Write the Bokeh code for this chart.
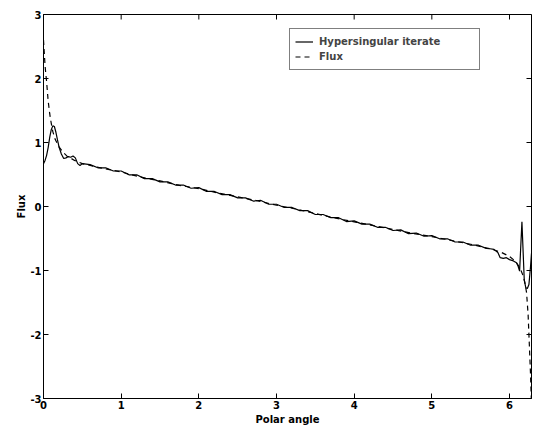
import math
from bokeh.plotting import figure
from bokeh.models import (FixedTicker, Legend, LegendItem, Range1d)
from bokeh.embed import file_html
from bokeh.resources import INLINE

# ---- data ----
theta_flux = [0.0, 0.01, 0.02, 0.03, 0.04, 0.05, 0.06, 0.07, 0.08, 0.09, 0.10,
              0.12, 0.15, 0.20, 0.25, 0.30, 0.40, 0.50,
              0.75, 1.00, 1.25, 1.50, 1.75, 2.00, 2.25, 2.50, 2.75, 3.00, 3.25,
              3.50, 3.75, 4.00, 4.25, 4.50, 4.75, 5.00, 5.25, 5.50, 5.75,
              5.90, 6.00, 6.08, 6.14, 6.18, 6.20, 6.22, 6.24, 6.25, 6.26, 6.27, 6.2832]
flux = [2.60, 2.40, 2.20, 2.07, 1.95, 1.80, 1.65, 1.55, 1.45, 1.37, 1.30,
        1.17, 1.05, 0.93, 0.85, 0.79, 0.72, 0.67,
        0.60, 0.54, 0.46, 0.40, 0.33, 0.28, 0.21, 0.15, 0.09, 0.02, -0.04,
        -0.11, -0.18, -0.24, -0.30, -0.36, -0.42, -0.47, -0.53, -0.59, -0.66,
        -0.72, -0.78, -0.86, -0.97, -1.10, -1.20, -1.35, -1.70, -2.00, -2.30, -2.60, -3.10]

theta_iter = [0.00, 0.02, 0.04, 0.06, 0.08, 0.10, 0.12, 0.14, 0.16, 0.18, 0.20,
              0.23, 0.26, 0.29, 0.32, 0.35, 0.38, 0.41, 0.44, 0.47, 0.50,
              0.6, 0.7, 0.8, 0.9, 1.0, 1.1, 1.2, 1.3, 1.4, 1.5,
              1.6, 1.7, 1.8, 1.9, 2.0, 2.1, 2.2, 2.3, 2.4, 2.5,
              2.6, 2.7, 2.8, 2.9, 3.0, 3.1, 3.2, 3.3, 3.4, 3.5,
              3.6, 3.7, 3.8, 3.9, 4.0, 4.1, 4.2, 4.3, 4.4, 4.5,
              4.6, 4.7, 4.8, 4.9, 5.0, 5.1, 5.2, 5.3, 5.4, 5.5,
              5.6, 5.7, 5.75, 5.80, 5.85, 5.88, 5.92, 5.96, 6.00, 6.05,
              6.09, 6.11, 6.13, 6.16, 6.19, 6.21, 6.23, 6.25, 6.27, 6.2832]
iterate = [0.67, 0.72, 0.80, 0.92, 1.08, 1.20, 1.26, 1.25, 1.16, 1.04, 0.93,
           0.82, 0.75, 0.76, 0.78, 0.77, 0.79, 0.76, 0.67, 0.64, 0.67,
           0.655, 0.605, 0.605, 0.555, 0.555, 0.495, 0.495, 0.435, 0.435, 0.385,
           0.385, 0.335, 0.335, 0.285, 0.295, 0.235, 0.235, 0.185, 0.185, 0.135,
           0.135, 0.085, 0.095, 0.035, 0.035, -0.015, -0.015, -0.065, -0.065, -0.125,
           -0.125, -0.175, -0.175, -0.235, -0.225, -0.275, -0.275, -0.325, -0.325, -0.375,
           -0.365, -0.425, -0.415, -0.465, -0.455, -0.505, -0.505, -0.555, -0.555, -0.605,
           -0.605, -0.655, -0.66, -0.67, -0.72, -0.80, -0.81, -0.80, -0.83, -0.85,
           -0.88, -0.93, -1.01, -0.24, -1.15, -1.27, -1.28, -1.22, -0.95, -0.73]

x_ticks = [0, 1, 2, 3, 4, 5, 6]
y_ticks = [-3, -2, -1, 0, 1, 2, 3]
y_tick_labels = ["-3", "-2", "-1", "0", "1", "2", "3"]
series_labels = ["Hypersingular iterate", "Flux"]
x_label = "Polar angle"
y_label = "Flux"

FONT = "DejaVu Sans"
FS = "10px"
X_MIN, X_MAX = 0, 2 * math.pi
Y_MIN, Y_MAX = -3, 3

p = figure(width=533, height=432, output_backend="svg", toolbar_location=None,
           x_range=Range1d(X_MIN, X_MAX), y_range=Range1d(Y_MIN, Y_MAX),
           min_border_left=43, min_border_right=2, min_border_top=14,
           min_border_bottom=34)
p.grid.visible = False
p.outline_line_color = "black"
p.outline_line_width = 1
p.background_fill_color = "white"
p.border_fill_color = "white"

r_flux = p.line(theta_flux, flux, line_color="black", line_width=1.2, line_dash="5 4")
r_iter = p.line(theta_iter, iterate, line_color="black", line_width=1.2)

# inward ticks on the top and right edges of the box (clipped to the frame)
p.scatter(x=x_ticks, y=[Y_MAX] * len(x_ticks), marker="dash", size=10,
          angle=math.pi / 2, line_color="black", line_width=1)
p.scatter(x=[X_MAX] * len(y_ticks), y=y_ticks, marker="dash", size=10,
          line_color="black", line_width=1)

for ax, ticks in ((p.xaxis[0], x_ticks), (p.yaxis[0], y_ticks)):
    ax.ticker = FixedTicker(ticks=ticks)
    ax.minor_tick_line_color = None
    ax.major_tick_in = 5
    ax.major_tick_out = 0
    ax.axis_line_color = "black"
    ax.major_tick_line_color = "black"
    ax.major_label_text_font = FONT
    ax.major_label_text_font_style = "bold"
    ax.major_label_text_color = "black"
    ax.major_label_text_font_size = FS
    ax.major_label_standoff = 2
    ax.axis_label_text_font = FONT
    ax.axis_label_text_font_style = "bold"
    ax.axis_label_text_font_size = FS
    ax.axis_label_text_color = "black"

xa = p.xaxis[0]
ya = p.yaxis[0]
ya.major_label_overrides = dict(zip(y_ticks, y_tick_labels))
xa.axis_label = x_label
ya.axis_label = y_label
xa.axis_label_standoff = 2
ya.axis_label_standoff = 0

legend = Legend(items=[LegendItem(label=series_labels[0], renderers=[r_iter]),
                       LegendItem(label=series_labels[1], renderers=[r_flux])],
                location=(246, 328))
legend.margin = 0
legend.padding = 5
legend.spacing = 0
legend.glyph_width = 18
legend.glyph_height = 15
legend.label_height = 15
legend.label_width = 155
legend.label_standoff = 6
legend.label_text_font = FONT
legend.label_text_font_style = "bold"
legend.label_text_font_size = FS
legend.border_line_color = "black"
legend.border_line_width = 1
legend.background_fill_color = "white"
legend.background_fill_alpha = 1
p.add_layout(legend, "center")

open("out.html", "w").write(file_html(p, INLINE))
